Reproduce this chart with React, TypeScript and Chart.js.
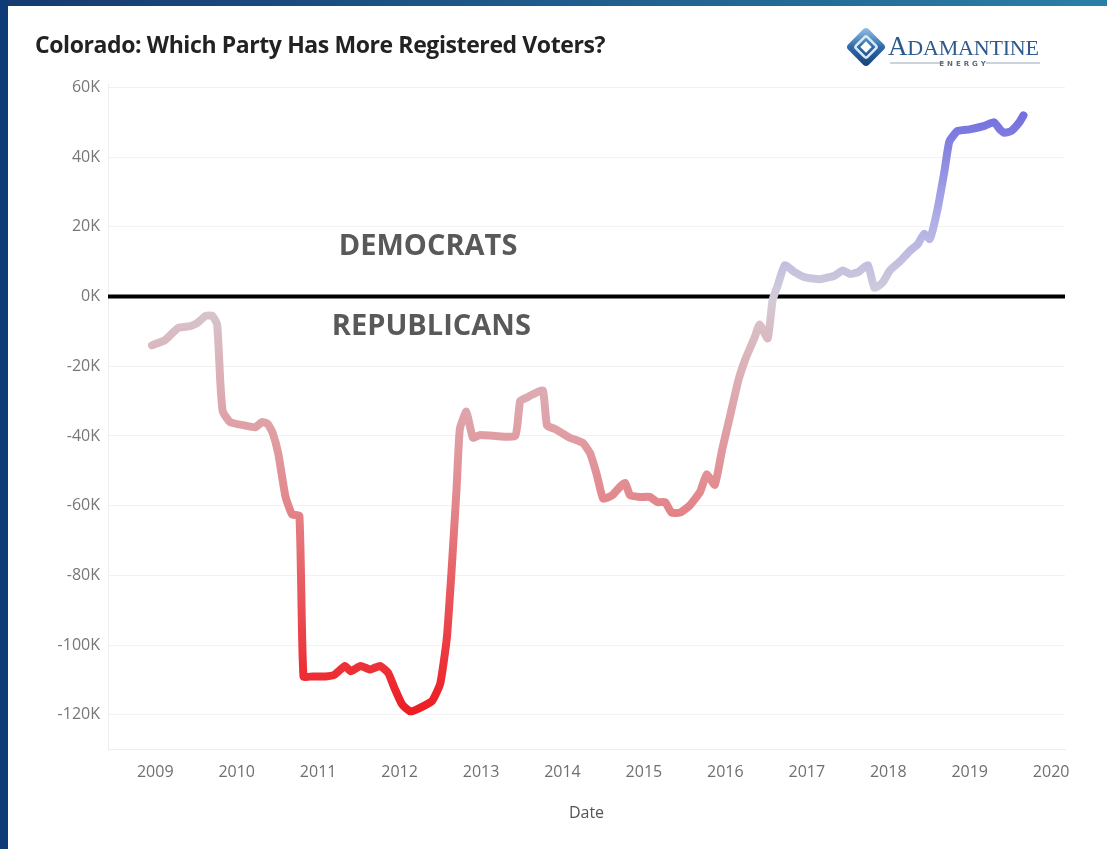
import React, { useEffect, useRef } from 'react';
import { Chart, registerables } from 'chart.js';

Chart.register(...registerables);

// Decimal-year dates and Democrat minus Republican registered voters (thousands)
const dates: number[] = [
  2008.96, 2009.12, 2009.28, 2009.43, 2009.52, 2009.62, 2009.7, 2009.76, 2009.8, 2009.83,
  2009.92, 2010.1, 2010.23, 2010.31, 2010.38, 2010.44, 2010.51, 2010.6, 2010.68, 2010.77,
  2010.82, 2010.93, 2011.09, 2011.2, 2011.33, 2011.4, 2011.52, 2011.64, 2011.76, 2011.86,
  2011.94, 2012.03, 2012.13, 2012.25, 2012.4, 2012.5, 2012.58, 2012.64, 2012.7, 2012.74,
  2012.82, 2012.9, 2012.99, 2013.17, 2013.42, 2013.48, 2013.56, 2013.64, 2013.76, 2013.81,
  2013.91, 2014.09, 2014.25, 2014.34, 2014.42, 2014.5, 2014.61, 2014.71, 2014.77, 2014.83,
  2014.95, 2015.07, 2015.17, 2015.26, 2015.34, 2015.44, 2015.56, 2015.69, 2015.77, 2015.87,
  2015.96, 2016.06, 2016.16, 2016.25, 2016.36, 2016.42, 2016.52, 2016.58, 2016.64, 2016.73,
  2016.85, 2016.98, 2017.16, 2017.34, 2017.44, 2017.53, 2017.63, 2017.75, 2017.83, 2017.93,
  2018.02, 2018.14, 2018.26, 2018.36, 2018.44, 2018.51, 2018.6, 2018.69, 2018.75, 2018.85,
  2019.0, 2019.18, 2019.3, 2019.37, 2019.43, 2019.51, 2019.61, 2019.66,
];

const marginK: number[] = [
  -14, -12.5, -9, -8.5, -7.5, -5.5, -5.5, -8, -25, -33,
  -36, -37, -37.5, -36, -36.5, -39, -45, -57.5, -62.5, -63,
  -109, -109, -109, -108.5, -106, -107.5, -106, -107, -106, -108,
  -112.5, -117, -119, -118, -116, -111, -98, -78, -55, -38,
  -33, -40.5, -39.7, -40, -40, -30, -29, -28, -27, -37,
  -38, -40.5, -42, -45, -51, -58, -57, -54.5, -53.5, -57,
  -57.5, -57.5, -59, -59, -62, -62, -60, -56, -51, -54,
  -44, -34, -24, -17.7, -11.7, -8, -12, -1, 3, 9,
  7, 5.5, 5, 6, 7.5, 6.5, 7, 9, 2.5, 4,
  7.5, 10, 13, 15, 18, 16.5, 24.5, 36, 44.5, 47.5,
  48, 49, 50, 48, 47, 47.5, 50, 52,
];

const yearTicks: number[] = [2009, 2010, 2011, 2012, 2013, 2014, 2015, 2016, 2017, 2018, 2019, 2020];
const valueTicks: number[] = [-120, -100, -80, -60, -40, -20, 0, 20, 40, 60];

const xRange: number[] = [2008.42, 2020.17];
const yRange: number[] = [-130, 61];

// colour scale stops (value in K, colour)
const colorStopValues: number[] = [-119, -100, -60, -35, -10, 0, 20, 52];
const colorStopColors: string[] = ['#ee1c24', '#ec3b41', '#e3868b', '#dea3a9', '#d9bcc3', '#d2ccd8', '#b3b2e7', '#7370df'];

const annotationTexts: string[] = ['DEMOCRATS', 'REPUBLICANS'];
const annotationX: number[] = [2012.35, 2012.39];
const annotationY: number[] = [14.4, -8.6];

const FONT = "'Open Sans', 'DejaVu Sans', sans-serif";

function Logo() {
  return (
    <div style={{ position: 'absolute', left: 846, top: 24, width: 200, height: 50 }}>
      <svg width="200" height="50" viewBox="0 0 200 50">
        <defs>
          <linearGradient id="lg1" x1="0" y1="0" x2="1" y2="1">
            <stop offset="0" stopColor="#9cc6ea" />
            <stop offset="0.5" stopColor="#2f6aa8" />
            <stop offset="1" stopColor="#163f73" />
          </linearGradient>
        </defs>
        <g transform="translate(20,23) rotate(45)">
          <rect x="-14.5" y="-14.5" width="29" height="29" rx="4" fill="url(#lg1)" />
          <rect x="-8" y="-8" width="16" height="16" rx="2" fill="none" stroke="#d8ebf9" strokeWidth="2.5" />
          <rect x="-4" y="-4" width="8" height="8" fill="#fff" />
        </g>
        <text x="42" y="31" fontFamily="'Liberation Serif', 'DejaVu Serif', serif" fontSize="22" fill="#2c5a8e" letterSpacing="-0.2">
          <tspan fontSize="27">A</tspan>DAMANTINE
        </text>
        <line x1="44" y1="39" x2="98" y2="39" stroke="#9aa8b8" strokeWidth="1.2" />
        <text x="118" y="42" textAnchor="middle" fontFamily="'DejaVu Sans', sans-serif" fontSize="7" fontWeight="bold" fill="#5a6c80" letterSpacing="3">ENERGY</text>
        <line x1="140" y1="39" x2="194" y2="39" stroke="#9aa8b8" strokeWidth="1.2" />
      </svg>
    </div>
  );
}

export default function App() {
  const canvasRef = useRef<HTMLCanvasElement | null>(null);

  useEffect(() => {
    if (!canvasRef.current) return;

    const annotationPlugin = {
      id: 'partyLabels',
      afterDatasetsDraw(chart: any) {
        const { ctx, scales } = chart;
        ctx.save();
        ctx.font = `bold 29px ${FONT}`;
        ctx.fillStyle = '#595959';
        ctx.textAlign = 'center';
        ctx.textBaseline = 'middle';
        annotationTexts.forEach((t, i) => {
          ctx.fillText(t, scales.x.getPixelForValue(annotationX[i]), scales.y.getPixelForValue(annotationY[i]));
        });
        ctx.restore();
      },
    };

    const gradientFor = (chart: any) => {
      const { chartArea, scales } = chart;
      if (!chartArea || !scales.y) return colorStopColors[0];
      const y = scales.y;
      const vMin = colorStopValues[0];
      const vMax = colorStopValues[colorStopValues.length - 1];
      const p0 = y.getPixelForValue(vMin);
      const p1 = y.getPixelForValue(vMax);
      const g = chart.ctx.createLinearGradient(0, p0, 0, p1);
      colorStopValues.forEach((v, i) => {
        g.addColorStop((v - vMin) / (vMax - vMin), colorStopColors[i]);
      });
      return g;
    };

    const chart = new Chart(canvasRef.current, {
      type: 'line',
      data: {
        datasets: [
          {
            label: 'Margin',
            data: dates.map((d, i) => ({ x: d, y: marginK[i] })),
            borderColor: (c: any) => gradientFor(c.chart),
            borderWidth: 8,
            borderCapStyle: 'round',
            borderJoinStyle: 'round',
            pointRadius: 0,
            tension: 0.15,
            fill: false,
          },
          {
            label: 'Zero',
            data: [{ x: xRange[0], y: 0 }, { x: xRange[1], y: 0 }],
            borderColor: '#000000',
            borderWidth: 4,
            pointRadius: 0,
            fill: false,
          },
        ],
      },
      options: {
        animation: false,
        responsive: false,
        maintainAspectRatio: false,
        layout: { padding: { left: 48, right: 42, top: 84, bottom: 26 } },
        plugins: {
          legend: { display: false },
          tooltip: { enabled: false },
        },
        scales: {
          x: {
            type: 'linear',
            min: xRange[0],
            max: xRange[1],
            afterBuildTicks: (s: any) => {
              s.ticks = yearTicks.map((v) => ({ value: v }));
            },
            grid: { display: false, drawTicks: false },
            border: { display: true, color: '#eeeeee', width: 1 },
            ticks: {
              padding: 13,
              color: '#6f6f6f',
              font: { family: FONT, size: 16 },
              maxRotation: 0,
              autoSkip: false,
              callback: (v: any) => String(v),
            },
            title: {
              display: true,
              text: 'Date',
              color: '#555555',
              font: { family: FONT, size: 16 },
              padding: { top: 9, bottom: 0 },
            },
          },
          y: {
            type: 'linear',
            min: yRange[0],
            max: yRange[1],
            afterBuildTicks: (s: any) => {
              s.ticks = valueTicks.map((v) => ({ value: v }));
            },
            afterFit: (s: any) => {
              s.width = 60;
            },
            grid: { color: '#f2f2f2', lineWidth: 1, drawTicks: false },
            border: { display: true, color: '#eeeeee', width: 1 },
            ticks: {
              padding: 8,
              color: '#777777',
              font: { family: FONT, size: 16 },
              callback: (v: any) => `${v}K`,
            },
          },
        },
      },
      plugins: [annotationPlugin],
    } as any);

    return () => chart.destroy();
  }, []);

  return (
    <div style={{ position: 'fixed', left: 0, top: 0, width: 1107, height: 849, background: '#ffffff', overflow: 'hidden' }}>
      <canvas ref={canvasRef} width={1107} height={849} style={{ position: 'absolute', left: 0, top: 0, width: 1107, height: 849 }} />
      <div style={{ position: 'absolute', left: 0, top: 0, width: 1107, height: 6, background: 'linear-gradient(90deg, #153a6f 0%, #1f5b8c 50%, #2b7fa6 100%)' }} />
      <div style={{ position: 'absolute', left: 0, top: 0, width: 8, height: 849, background: '#0f3a78' }} />
      <div
        style={{
          position: 'absolute',
          left: 35,
          top: 30,
          fontFamily: FONT,
          fontWeight: 700,
          fontSize: 23,
          lineHeight: '28px',
          color: '#222222',
          letterSpacing: '-0.4px',
          whiteSpace: 'nowrap',
        }}
      >
        Colorado: Which Party Has More Registered Voters?
      </div>
      <Logo />
    </div>
  );
}
